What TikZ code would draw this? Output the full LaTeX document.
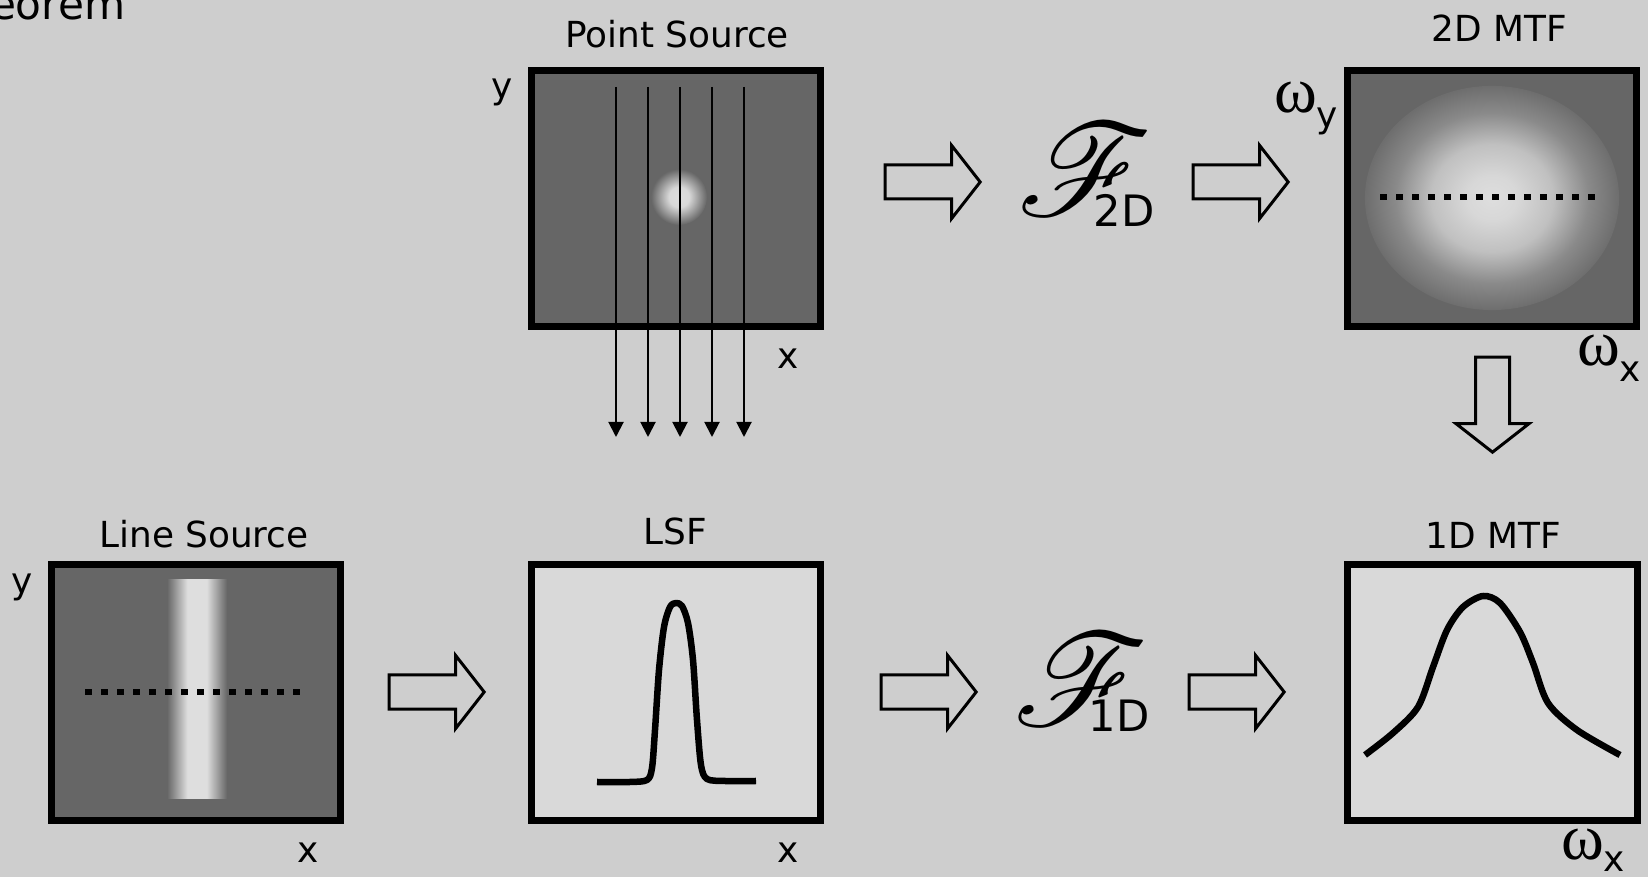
\documentclass[tikz,border=0pt]{standalone}
\usepackage{fontspec}
\setmainfont{DejaVu Sans}
\newfontfamily\omegafont{Liberation Serif}
\usepackage{mathrsfs}
\usepackage{graphicx}
\usetikzlibrary{arrows.meta,shapes.arrows}

\definecolor{bggray}{HTML}{CECECE}
\definecolor{imgdark}{HTML}{666666}
\definecolor{imglight}{HTML}{D9D9D9}
\definecolor{glowlight}{HTML}{DEDEDE}

\newcommand{\lblsize}{\fontsize{10.2}{12}\selectfont}

\pgfdeclareradialshading{spotglow}{\pgfpoint{0bp}{0bp}}{color(0bp)=(glowlight); color(9bp)=(glowlight!95!imgdark); color(25bp)=(imgdark); color(50bp)=(imgdark)}
\pgfdeclareradialshading{mtfglow}{\pgfpoint{0bp}{0bp}}{color(0bp)=(glowlight); color(5bp)=(glowlight!97!black); color(12bp)=(glowlight!75!imgdark); color(19bp)=(glowlight!30!imgdark); color(25bp)=(imgdark!95!white); color(50bp)=(imgdark)}
\pgfdeclarehorizontalshading{lineglow}{100bp}{color(0bp)=(imgdark); color(25bp)=(imgdark); color(42bp)=(glowlight); color(58bp)=(glowlight); color(75bp)=(imgdark); color(100bp)=(imgdark)}

\begin{document}
\begin{tikzpicture}[x=0.01cm, y=-0.01cm,
  % Node styles
  img/.style={draw=black, line width=0.07cm, fill=imgdark, minimum width=2.89cm,
              minimum height=2.56cm, inner sep=0pt},
  graphbox/.style={img, fill=imglight},
  lbl/.style={font=\lblsize, inner sep=0pt},
  ttl/.style={lbl, anchor=base},
  om/.style={font=\omegafont\fontsize{18.5}{20}\selectfont, inner sep=0pt},
  fsym/.style={font=\fontsize{24.88}{26}\selectfont, inner sep=0pt},
  fsub/.style={font=\fontsize{12.3}{14}\selectfont, inner sep=0pt},
  % Block arrow style
  blk/.style={single arrow, draw=black, line width=0.03cm, fill=bggray, inner sep=0pt,
              text height=0.31cm, text depth=0pt, minimum height=0.95cm,
              single arrow head extend=0.195cm, single arrow tip angle=104},
  % Line styles
  ray/.style={-{Triangle[width=0.15cm,length=0.15cm]}, line width=0.02cm},
  dots/.style={line width=0.065cm, dash pattern=on 0.07cm off 0.09cm},
  curve/.style={line width=0.065cm, line join=round},
]

% === Background ===
\fill[bggray] (0,0) rectangle (1648,877);
\useasboundingbox (0,0) rectangle (1648,877);

% === Top row: images ===
\node[img] (ps) at (676,198.5) {};
\node[img] (mtf2) at (1492,198.5) {};

% === Bottom row: images and plots ===
\node[img] (ls) at (196,692.5) {};
\node[graphbox] (lsf) at (676,692.5) {};
\node[graphbox] (mtf1) at (1492.5,692.5) {};

% === Image contents ===
\shade[shading=spotglow] (679,197) circle (0.28cm);
\shade[shading=mtfglow] (1492,198) ellipse [x radius=1.27cm, y radius=1.12cm];
\shade[shading=lineglow] (167,580) rectangle (227,799);
\draw[dots] (1380,197) -- (1597,197);
\draw[dots] (85,692) -- (302,692);

% === Plot curves ===
\draw[curve] plot[smooth, tension=0.5] coordinates {(597,782) (630,782) (647,780)
  (652,768) (655,730) (659,670) (664,627) (670,607) (676,603) (682,606) (688,623)
  (693,660) (697,720) (701,765) (707,779) (725,781) (756,781)};
\draw[curve] plot[smooth] coordinates {(1365,755) (1393,733) (1418,707) (1433,667)
  (1447,630) (1463,607) (1483,596) (1500,603) (1520,632) (1533,663) (1548,703)
  (1577,730) (1620,755)};

% === Projection rays ===
\coordinate (r1) at (616,87);  \coordinate (t1) at (616,437);
\coordinate (r2) at (648,87);  \coordinate (t2) at (648,437);
\coordinate (r3) at (680,87);  \coordinate (t3) at (680,437);
\coordinate (r4) at (712,87);  \coordinate (t4) at (712,437);
\coordinate (r5) at (744,87);  \coordinate (t5) at (744,437);
\draw[ray] (r1) -- (t1);
\draw[ray] (r2) -- (t2);
\draw[ray] (r3) -- (t3);
\draw[ray] (r4) -- (t4);
\draw[ray] (r5) -- (t5);

% === Block arrows ===
\node[blk] (a1) at (926,182) {};
\node[blk] (a2) at (1234,182) {};
\node[blk, rotate=-90] (a3) at (1492.5,398) {};
\node[blk] (a4) at (430,692) {};
\node[blk] (a5) at (922,692) {};
\node[blk] (a6) at (1230,692) {};

% === Fourier transforms ===
\node[fsym] (f2) at (1085,170) {\scalebox{1.5}{$\mathscr{F}$}};
\node[fsub] (f2s) at (1124,210) {2D};
\node[fsym] (f1) at (1081,680) {\scalebox{1.5}{$\mathscr{F}$}};
\node[fsub] (f1s) at (1119,716) {1D};

% === Titles ===
\node[lbl, font=\fontsize{12}{14}\selectfont, anchor=base east] (hdr) at (126,20) {eorem};
\node[ttl] (psT) at (677,48) {Point Source};
\node[ttl] (mtf2T) at (1499,42) {2D MTF};
\node[ttl] (lsT) at (204,548) {Line Source};
\node[ttl] (lsfT) at (675,545) {LSF};
\node[ttl] (mtf1T) at (1493,549) {1D MTF};

% === Axis labels ===
\node[lbl] (psY) at (502,92) {y};
\node[lbl] (psX) at (788,359) {x};
\node[lbl] (lsY) at (22,587) {y};
\node[lbl] (lsX) at (308,853) {x};
\node[lbl] (lsfX) at (788,853) {x};
\node[om] (mtf2Wy) at (1296,98) {ω};
\node[lbl] (mtf2Wys) at (1327,121) {y};
\node[om] (mtf2Wx) at (1599,351) {ω};
\node[lbl] (mtf2Wxs) at (1630,372) {x};
\node[om] (mtf1Wx) at (1583,845) {ω};
\node[lbl] (mtf1Wxs) at (1614,862) {x};

\end{tikzpicture}
\end{document}
